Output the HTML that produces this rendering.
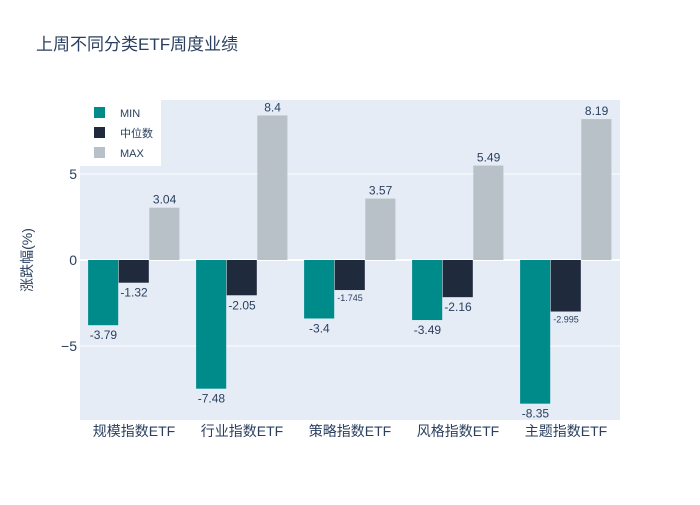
<!DOCTYPE html>
<html><head><meta charset="utf-8"><style>
body{margin:0;background:#fff;font-family:"Liberation Sans","Noto Sans CJK SC",sans-serif}
svg text{font-family:"Liberation Sans","Noto Sans CJK SC",sans-serif}
</style></head><body>
<svg id="c" width="700" height="500">
<rect width="700" height="500" fill="#fff"/>
<text x="36" y="50" font-size="17" fill="#2a3f5f">上周不同分类ETF周度业绩</text>
<rect x="80" y="100" width="540" height="320" fill="#e5ecf6"/>
<g id="grid"></g><g id="bars"></g><g id="labels"></g>
<text transform="translate(32,260) rotate(-90)" text-anchor="middle" font-size="14" fill="#2a3f5f">涨跌幅(%)</text>
<g>
<rect x="80" y="100" width="81" height="66" fill="#fff"/>
<rect x="94" y="107" width="11" height="11" fill="#008b8b"/>
<text x="120" y="117" font-size="11" fill="#2a3f5f">MIN</text>
<rect x="94" y="127" width="11" height="11" fill="#1f2a3c"/>
<text x="120" y="137" font-size="11" fill="#2a3f5f">中位数</text>
<rect x="94" y="147" width="11" height="11" fill="#b8c0c8"/>
<text x="120" y="157" font-size="11" fill="#2a3f5f">MAX</text>
</g>
</svg>
<script>
const categories=["规模指数ETF","行业指数ETF","策略指数ETF","风格指数ETF","主题指数ETF"];
const minVals=[-3.79,-7.48,-3.4,-3.49,-8.35];
const medVals=[-1.32,-2.05,-1.745,-2.16,-2.995];
const maxVals=[3.04,8.4,3.57,5.49,8.19];
const yTicks=[-5,0,5];
const yTickLabels=["−5","0","5"];
const NS="http://www.w3.org/2000/svg";
const X0=80,W=540,Y0=100,H=320,YMIN=-9.3,YMAX=9.3;
function y(v){return Y0+(YMAX-v)/(YMAX-YMIN)*H;}
function xc(i){return X0+(i+0.5)*W/categories.length;}
function mk(t,a,p){const e=document.createElementNS(NS,t);for(const k in a)e.setAttribute(k,a[k]);p.appendChild(e);return e;}
const grid=document.getElementById('grid'),bars=document.getElementById('bars'),labels=document.getElementById('labels'),svg=document.getElementById('c');
yTicks.forEach((t,i)=>{
 const l=mk('line',{x1:X0,x2:X0+W,y1:y(t),y2:y(t),stroke:'#fff','stroke-width':t===0?2:1},grid);
 
 
 const tx=mk('text',{x:X0-3,y:y(t)+5,'text-anchor':'end','font-size':14,fill:'#2a3f5f'},svg);
 tx.textContent=yTickLabels[i];
 
 
});
const series=[[minVals,'#008b8b','min'],[medVals,'#1f2a3c','median'],[maxVals,'#b8c0c8','max']];
const gw=W/categories.length*0.85,bw=gw/3;
categories.forEach((c,i)=>{
 const tx=mk('text',{x:xc(i),y:436,'text-anchor':'middle','font-size':14,fill:'#2a3f5f'},svg);
 tx.textContent=c;
 
 
 series.forEach((s,j)=>{
  const v=s[0][i],x=xc(i)-gw/2+j*bw;
  const top=Math.min(y(v),y(0)),h=Math.abs(y(v)-y(0));
  const r=mk('rect',{x:x,y:top,width:bw-0.5,height:h,fill:s[1]},bars);
  
  
  const txt=String(v);
  const small=txt.length>5;
  const lb=mk('text',{x:x+bw/2,y:v>=0?y(v)-4:y(v)+(small?11:14),'text-anchor':'middle','font-size':small?9:12,fill:'#2a3f5f'},labels);
  lb.textContent=txt;
  
  
 });
});
</script>
</body></html>
